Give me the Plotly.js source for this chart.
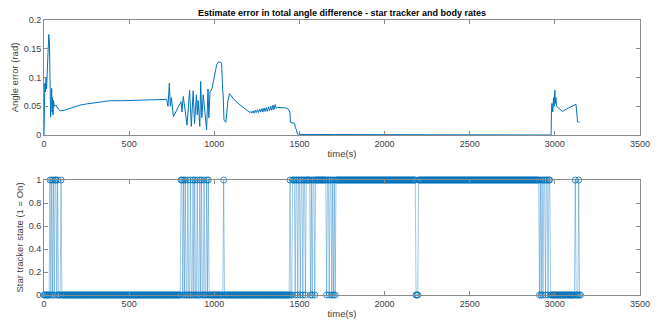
<!DOCTYPE html>
<html>
<head>
<meta charset="utf-8">
<script src="https://cdn.plot.ly/plotly-3.0.1.min.js"></script>
<style>html,body{margin:0;padding:0;background:#fff;}#chart{width:660px;height:323px;}</style>
</head>
<body>
<div id="chart"></div>
<script>
// ---- Top panel: angle error estimate (time s, error rad) ----
var errTime = [0,2,5,8,12,15,20,25,28,32,35,38,39,42,45,48,50,53,56,60,70,80,94,120,150,211,250,300,350,388,450,500,550,600,650,700,720,
  728,736,742,748,760,790,805,810,818,840,855,865,876,884,895,900,905,915,920,927,935,955,963,968,975,986,1014,1024,1043,1049,1052,1057,1068,1080,1090,1095,1110,1140,1190,
  1210,1215,1220,1228,1233,1241,1246,1254,1259,1267,1272,1280,1285,1293,1298,1306,1311,1319,1324,1332,1337,1345,1350,1358,1363,1370,
  1400,1420,1435,1440,1444,1447,1460,1472,1476,1482,1488,1495,1700,2000,2300,2600,2900,2975,
  2978,2980,2983,2988,2992,2996,3000,3003,3006,3010,3020,3044,3080,3110,3124,3127,3133,3145];
var errValue = [0,0.06,0.09,0.075,0.10,0.08,0.13,0.16,0.175,0.16,0.12,0.09,0.031,0.06,0.081,0.04,0.065,0.035,0.06,0.05,0.052,0.047,0.042,0.043,0.046,0.052,0.054,0.056,0.058,0.0597,0.0595,0.060,0.0605,0.061,0.061,0.062,0.062,
  0.05,0.09,0.05,0.065,0.032,0.05,0.058,0.04,0.067,0.017,0.078,0.015,0.077,0.02,0.07,0.035,0.06,0.015,0.093,0.03,0.07,0.009,0.08,0.03,0.075,0.08,0.122,0.1275,0.125,0.08,0.07,0.026,0.022,0.06,0.072,0.07,0.064,0.055,0.0435,
  0.039,0.041,0.038,0.042,0.038,0.043,0.039,0.044,0.039,0.045,0.040,0.046,0.040,0.047,0.041,0.048,0.041,0.049,0.042,0.050,0.043,0.052,0.044,0.053,0.046,0.048,
  0.048,0.047,0.045,0.043,0.040,0.022,0.021,0.020,0.012,0.010,0.002,0.001,0.0008,0.0008,0.0008,0.0008,0.0008,0.0008,
  0.0,0.04,0.055,0.04,0.065,0.05,0.078,0.055,0.065,0.05,0.047,0.041,0.047,0.051,0.0533,0.045,0.023,0.022];

// ---- Bottom panel: star tracker ON intervals (s); state is 0 elsewhere ----
var onStart = [35,45,55,65,80,100,
  805,820,830,845,860,875,885,900,915,925,940,955,965,1055,
  1445,1460,1480,1495,1510,1525,1540,1570,1580,1595,1665,1680,1695,1705,1715,2200,
  2915,2925,2935,2950,2965,3120,3140];
var onEnd = [40,50,60,75,85,105,
  815,825,835,850,865,880,890,905,920,930,945,960,970,1060,
  1450,1475,1490,1505,1520,1535,1565,1575,1590,1660,1675,1690,1700,1710,2185,2910,
  2920,2930,2945,2960,2975,3125,3145];
var sampleStep = 5, endTime = 3150;

var xTicks = [0,500,1000,1500,2000,2500,3000,3500];
var errTicks = [0,0.05,0.1,0.15,0.2], errTickText = ['0','0.05','0.1','0.15','0.2'];
var stTicks = [0,0.2,0.4,0.6,0.8,1], stTickText = ['0','0.2','0.4','0.6','0.8','1'];

var stT = [], stV = [];
for (var t = 0; t <= endTime; t += sampleStep) {
  var s = 0;
  for (var i = 0; i < onStart.length; i++) { if (t >= onStart[i] && t < onEnd[i]) { s = 1; break; } }
  stT.push(t); stV.push(s);
}

var blue = '#0072BD', axc = '#8a8a8a', txt = '#404040';
var fontFam = '"Liberation Sans", Arial, sans-serif';

var traces = [
  {x: errTime, y: errValue, type: 'scatter', mode: 'lines', line: {color: blue, width: 1}, xaxis: 'x', yaxis: 'y', hoverinfo: 'skip'},
  {x: stT, y: stV, type: 'scatter', mode: 'lines+markers', line: {color: 'rgba(0,114,189,0.55)', width: 0.7},
   marker: {symbol: 'circle-open', size: 6, color: blue, line: {width: 0.8, color: blue}}, xaxis: 'x2', yaxis: 'y2', hoverinfo: 'skip', cliponaxis: false}
];

function xax(anchor) {
  return {domain: [0, 1], anchor: anchor, range: [0, 3500], tickvals: xTicks, ticktext: xTicks.map(String),
    ticks: 'inside', ticklen: 4, tickcolor: axc, showline: true, linecolor: axc, linewidth: 1, mirror: 'ticks',
    showgrid: false, zeroline: false, tickfont: {size: 9, color: txt, family: fontFam},
    title: {text: 'time(s)', font: {size: 9.5, color: txt, family: fontFam}, standoff: 2}};
}
function yax(anchor, domain, range, vals, texts, title) {
  return {domain: domain, anchor: anchor, range: range, tickvals: vals, ticktext: texts,
    ticks: 'inside', ticklen: 4, tickcolor: axc, showline: true, linecolor: axc, linewidth: 1, mirror: 'ticks',
    showgrid: false, zeroline: false, tickfont: {size: 9, color: txt, family: fontFam},
    title: {text: title, font: {size: 9.5, color: txt, family: fontFam}, standoff: 3}};
}

var layout = {
  width: 660, height: 323, showlegend: false,
  paper_bgcolor: '#fff', plot_bgcolor: '#fff',
  margin: {l: 44, r: 20, t: 20, b: 28},
  title: {text: '<b>Estimate error in total angle difference - star tracker and body rates</b>',
    font: {size: 9, color: '#000', family: fontFam}, xref: 'paper', x: 0.5, xanchor: 'center',
    yref: 'container', y: 1 - 13 / 323, yanchor: 'middle'},
  xaxis: xax('y'),
  yaxis: yax('x', [1 - 115 / 275, 1], [0, 0.2], errTicks, errTickText, 'Angle error (rad)'),
  xaxis2: xax('y2'),
  yaxis2: yax('x2', [0, 115 / 275], [0, 1], stTicks, stTickText, 'Star tracker state (1 = On)')
};

Plotly.newPlot('chart', traces, layout, {displayModeBar: false, staticPlot: true});
</script>
</body>
</html>
